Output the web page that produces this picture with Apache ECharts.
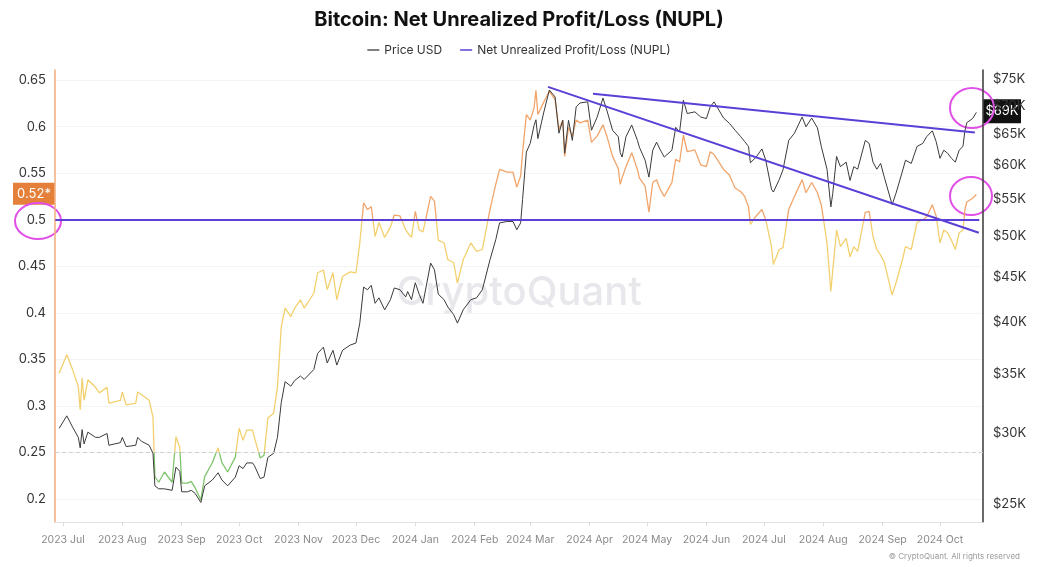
<!DOCTYPE html>
<html>
<head>
<meta charset="utf-8">
<title>Bitcoin: Net Unrealized Profit/Loss (NUPL)</title>
<script src="https://cdn.jsdelivr.net/npm/echarts@6/dist/echarts.min.js"></script>
<style>
    html, body { margin: 0; padding: 0; background: #fff; }
    #main { width: 1038px; height: 567px; }
</style>
</head>
<body>
<div id="main"></div>
<script>
const FONT = 'Inter, "Noto Sans", sans-serif';

// ------------------ data ------------------
const dates = [
    '2023-06-29', '2023-07-03', '2023-07-06', '2023-07-09', '2023-07-10', '2023-07-11', '2023-07-12', '2023-07-14',
    '2023-07-18', '2023-07-20', '2023-07-24', '2023-07-25', '2023-07-31', '2023-08-01', '2023-08-03', '2023-08-08',
    '2023-08-09', '2023-08-11', '2023-08-15', '2023-08-17', '2023-08-18', '2023-08-20', '2023-08-23', '2023-08-27',
    '2023-08-29', '2023-08-31', '2023-09-01', '2023-09-04', '2023-09-06', '2023-09-08', '2023-09-11', '2023-09-13',
    '2023-09-17', '2023-09-20', '2023-09-22', '2023-09-25', '2023-09-29', '2023-10-01', '2023-10-03', '2023-10-05',
    '2023-10-08', '2023-10-09', '2023-10-12', '2023-10-14', '2023-10-16', '2023-10-19', '2023-10-21', '2023-10-23',
    '2023-10-25', '2023-10-28', '2023-10-30', '2023-11-02', '2023-11-04', '2023-11-09', '2023-11-11', '2023-11-14',
    '2023-11-16', '2023-11-19', '2023-11-21', '2023-11-24', '2023-11-28', '2023-12-01', '2023-12-03', '2023-12-05',
    '2023-12-07', '2023-12-09', '2023-12-11', '2023-12-13', '2023-12-16', '2023-12-19', '2023-12-21', '2023-12-24',
    '2023-12-27', '2023-12-28', '2023-12-30', '2024-01-01', '2024-01-03', '2024-01-05', '2024-01-09', '2024-01-11',
    '2024-01-13', '2024-01-16', '2024-01-18', '2024-01-21', '2024-01-23', '2024-01-26', '2024-01-30', '2024-02-02',
    '2024-02-05', '2024-02-09', '2024-02-12', '2024-02-14', '2024-02-18', '2024-02-21', '2024-02-23', '2024-02-25',
    '2024-02-26', '2024-02-28', '2024-03-01', '2024-03-03', '2024-03-04', '2024-03-05', '2024-03-08', '2024-03-11',
    '2024-03-14', '2024-03-16', '2024-03-18', '2024-03-19', '2024-03-21', '2024-03-23', '2024-03-25', '2024-03-27',
    '2024-03-31', '2024-04-02', '2024-04-05', '2024-04-08', '2024-04-10', '2024-04-13', '2024-04-16', '2024-04-17',
    '2024-04-18', '2024-04-20', '2024-04-23', '2024-04-26', '2024-04-27', '2024-04-30', '2024-05-02', '2024-05-04',
    '2024-05-06', '2024-05-08', '2024-05-10', '2024-05-14', '2024-05-16', '2024-05-18', '2024-05-20', '2024-05-22',
    '2024-05-26', '2024-05-29', '2024-06-01', '2024-06-03', '2024-06-05', '2024-06-10', '2024-06-13', '2024-06-16',
    '2024-06-19', '2024-06-21', '2024-06-23', '2024-06-24', '2024-06-27', '2024-06-30', '2024-07-02', '2024-07-05',
    '2024-07-06', '2024-07-09', '2024-07-11', '2024-07-14', '2024-07-17', '2024-07-21', '2024-07-23', '2024-07-26',
    '2024-07-29', '2024-07-31', '2024-08-03', '2024-08-05', '2024-08-06', '2024-08-08', '2024-08-10', '2024-08-13',
    '2024-08-15', '2024-08-17', '2024-08-19', '2024-08-23', '2024-08-25', '2024-08-27', '2024-08-29', '2024-08-31',
    '2024-09-02', '2024-09-06', '2024-09-08', '2024-09-11', '2024-09-13', '2024-09-16', '2024-09-19', '2024-09-22',
    '2024-09-24', '2024-09-27', '2024-09-29', '2024-10-01', '2024-10-03', '2024-10-05', '2024-10-07', '2024-10-09',
    '2024-10-11', '2024-10-13', '2024-10-14', '2024-10-15', '2024-10-18', '2024-10-20'
];

const priceUsd = [
    30400, 31400, 30500, 29700, 28900, 30300, 29200, 30100,
    29700, 29700, 30000, 29100, 29300, 29700, 29000, 29100,
    29700, 29400, 29100, 28500, 26200, 26000, 26000, 25900,
    27500, 27200, 25800, 25800, 25900, 25700, 25100, 26200,
    26600, 27100, 26600, 26200, 26800, 27600, 27400, 27800,
    27800, 27600, 26700, 26800, 28200, 28500, 29700, 32500,
    34300, 33900, 34400, 34800, 34500, 35400, 36900, 37500,
    36000, 37200, 35800, 37200, 37700, 37900, 39900, 43800,
    43500, 44000, 42000, 42600, 41300, 42400, 43700, 43500,
    42700, 43300, 42400, 44300, 43000, 42000, 46600, 45800,
    43000, 42400, 41600, 40800, 39900, 41300, 42400, 42600,
    43500, 47000, 49500, 51700, 51900, 51900, 50800, 51700,
    54900, 62100, 63500, 66500, 67500, 64300, 68700, 72900,
    71600, 65200, 67400, 61900, 67400, 64000, 69800, 70500,
    70700, 65700, 68000, 71400, 69200, 65700, 64600, 62000,
    61300, 64600, 66600, 64000, 62900, 60800, 58200, 62400,
    63700, 62400, 61300, 62400, 66200, 65400, 71000, 68600,
    68900, 68000, 67700, 69800, 70700, 67800, 66900, 65700,
    64600, 63800, 63000, 60400, 61300, 62600, 60800, 56400,
    56000, 57800, 59300, 64000, 65200, 68000, 66300, 67800,
    66100, 63000, 59400, 53900, 55800, 61400, 59800, 60500,
    57700, 59800, 59400, 64000, 63500, 60500, 59400, 60300,
    58100, 54200, 55800, 58700, 60800, 60300, 63000, 63500,
    64600, 65600, 63800, 61100, 62400, 61900, 61100, 60500,
    62400, 63000, 65600, 67000, 67700, 68800
];

const nupl = [
    0.335, 0.355, 0.339, 0.321, 0.296, 0.330, 0.306, 0.328,
    0.320, 0.314, 0.320, 0.303, 0.306, 0.315, 0.301, 0.303,
    0.315, 0.312, 0.306, 0.288, 0.224, 0.218, 0.229, 0.218,
    0.267, 0.255, 0.217, 0.217, 0.219, 0.212, 0.199, 0.224,
    0.239, 0.255, 0.239, 0.229, 0.245, 0.276, 0.263, 0.274,
    0.274, 0.266, 0.244, 0.247, 0.287, 0.292, 0.320, 0.385,
    0.405, 0.396, 0.405, 0.414, 0.405, 0.421, 0.443, 0.446,
    0.425, 0.443, 0.414, 0.439, 0.444, 0.443, 0.475, 0.518,
    0.511, 0.514, 0.482, 0.497, 0.481, 0.492, 0.505, 0.504,
    0.489, 0.486, 0.481, 0.509, 0.489, 0.487, 0.525, 0.520,
    0.478, 0.475, 0.457, 0.454, 0.432, 0.457, 0.475, 0.466,
    0.468, 0.511, 0.538, 0.554, 0.551, 0.551, 0.535, 0.547,
    0.572, 0.613, 0.607, 0.620, 0.639, 0.613, 0.626, 0.638,
    0.629, 0.597, 0.607, 0.568, 0.599, 0.590, 0.607, 0.604,
    0.607, 0.583, 0.590, 0.602, 0.590, 0.568, 0.555, 0.538,
    0.545, 0.557, 0.572, 0.554, 0.545, 0.536, 0.508, 0.540,
    0.543, 0.532, 0.525, 0.540, 0.565, 0.562, 0.591, 0.573,
    0.575, 0.559, 0.557, 0.573, 0.570, 0.554, 0.548, 0.534,
    0.530, 0.525, 0.514, 0.495, 0.504, 0.511, 0.500, 0.471,
    0.452, 0.468, 0.470, 0.511, 0.525, 0.543, 0.529, 0.540,
    0.529, 0.516, 0.475, 0.423, 0.446, 0.489, 0.471, 0.480,
    0.460, 0.471, 0.466, 0.508, 0.509, 0.482, 0.468, 0.462,
    0.454, 0.419, 0.432, 0.454, 0.471, 0.468, 0.497, 0.500,
    0.503, 0.516, 0.504, 0.475, 0.489, 0.486, 0.478, 0.468,
    0.486, 0.489, 0.511, 0.519, 0.523, 0.527
];

const MONTHS = ['Jan', 'Feb', 'Mar', 'Apr', 'May', 'Jun', 'Jul', 'Aug', 'Sep', 'Oct', 'Nov', 'Dec'];
const nuplTicks = [0.2, 0.25, 0.3, 0.35, 0.4, 0.45, 0.5, 0.55, 0.6, 0.65];
const priceTicks = [25000, 30000, 35000, 40000, 45000, 50000, 55000, 60000, 65000, 70000, 75000];

// last values shown in the axis tags
const lastNupl = 0.528;
const lastPrice = 69000;

// hand drawn trend lines (date, price) and the 0.5 level
const trendA = [['2024-03-10 07:00', 73500], ['2024-10-21 07:00', 50400]];
const trendB = [['2024-04-02 19:00', 72200], ['2024-10-19 05:00', 65300]];
const levelLine = [['2023-06-27', 0.5], ['2024-10-21 12:00', 0.5]];

const GREEN = '#7fc36c';
const YELLOW = '#f3d06e';
const ORANGE = '#f1a56b';
const PURPLE = '#5b3fd6';
const MAGENTA = '#e04fe6';

const toTime = d => echarts.number.parseDate(d).getTime();
const DAY = 24 * 3600 * 1000;

let chart = echarts.init(document.getElementById('main'));

let option = {
    animation: false,
    textStyle: {fontFamily: FONT},
    title: {
        text: 'Bitcoin: Net Unrealized Profit/Loss (NUPL)',
        left: 'center',
        top: 5,
        textStyle: {fontSize: 20, fontWeight: 'bold', color: '#111', fontFamily: FONT}
    },
    legend: {
        top: 39,
        left: 'center',
        icon: 'rect',
        itemWidth: 12,
        itemHeight: 1.5,
        itemGap: 18,
        textStyle: {fontSize: 12, color: '#333', fontFamily: FONT},
        data: ['Price USD', 'Net Unrealized Profit/Loss (NUPL)']
    },
    grid: {left: 55, right: 55, top: 70, bottom: 45},
    xAxis: {
        type: 'time',
        min: toTime('2023-06-26 20:00'),
        max: toTime('2024-10-23 11:00'),
        minInterval: 28 * DAY,
        maxInterval: 31 * DAY,
        axisLine: {show: true, lineStyle: {color: '#e3e3e3'}},
        axisTick: {show: true, length: 4, lineStyle: {color: '#dcdcdc'}},
        axisLabel: {
            color: '#8a8a8a', fontSize: 10.5, margin: 12, fontFamily: FONT,
            hideOverlap: false,
            formatter: function (v) {
                let d = new Date(v);
                return d.getFullYear() + ' ' + MONTHS[d.getMonth()];
            }
        },
        splitLine: {show: false}
    },
    yAxis: [
        {
            type: 'value',
            position: 'left',
            min: 0.1753,
            max: 0.6608,
            axisLine: {show: true, lineStyle: {color: '#f4b183', width: 1.6}},
            axisTick: {show: false, customValues: nuplTicks},
            axisLabel: {
                color: '#333', fontSize: 13, margin: 9, fontFamily: FONT,
                customValues: nuplTicks,
                formatter: v => String(+v.toFixed(2))
            },
            splitLine: {show: true, lineStyle: {color: '#f4f4f4'}}
        },
        {
            type: 'log',
            position: 'right',
            min: 23863,
            max: 76770,
            axisLine: {show: true, lineStyle: {color: '#444', width: 1.6}},
            axisTick: {show: false, customValues: priceTicks},
            axisLabel: {
                color: '#333', fontSize: 13, margin: 10, fontFamily: FONT,
                customValues: priceTicks,
                formatter: v => '$' + Math.round(v / 1000) + 'K'
            },
            splitLine: {show: false}
        }
    ],
    visualMap: {
        show: false,
        type: 'piecewise',
        seriesIndex: 1,
        dimension: 1,
        pieces: [
            {lt: 0.25, color: GREEN},
            {gte: 0.25, lt: 0.5, color: YELLOW},
            {gte: 0.5, color: ORANGE}
        ]
    },
    series: [
        {
            name: 'Price USD',
            type: 'line',
            yAxisIndex: 1,
            color: '#555',
            showSymbol: false,
            z: 3,
            lineStyle: {color: '#3a3a3a', width: 1},
            data: dates.map((d, i) => [d, priceUsd[i]]),
            markLine: {
                silent: true,
                symbol: 'none',
                label: {show: false},
                lineStyle: {color: PURPLE, width: 2, type: 'solid'},
                data: [
                    [{coord: trendA[0]}, {coord: trendA[1]}],
                    [{coord: trendB[0]}, {coord: trendB[1]}]
                ]
            }
        },
        {
            name: 'Net Unrealized Profit/Loss (NUPL)',
            type: 'line',
            yAxisIndex: 0,
            color: PURPLE,
            showSymbol: false,
            z: 2,
            lineStyle: {width: 1.3},
            data: dates.map((d, i) => [d, nupl[i]]),
            markLine: {
                silent: true,
                symbol: 'none',
                label: {show: false},
                data: [
                    {yAxis: 0.25, lineStyle: {color: '#cfcfcf', width: 1, type: [4, 3]}},
                    [{coord: levelLine[0], lineStyle: {color: PURPLE, width: 2, type: 'solid'}}, {coord: levelLine[1]}]
                ]
            }
        }
    ]
};

chart.setOption(option);

// axis tags and drawn annotations
let yN = chart.convertToPixel({yAxisIndex: 0}, lastNupl);
let yP = chart.convertToPixel({yAxisIndex: 1}, lastPrice);

chart.setOption({
    graphic: [
        {
            type: 'text', left: 'center', top: 273, z: 0, silent: true,
            style: {text: 'CryptoQuant', fontSize: 40, fontWeight: 500, fill: '#e8e8ec', fontFamily: FONT}
        },
        {
            type: 'text', right: 18, top: 553, silent: true,
            style: {text: '© CryptoQuant. All rights reserved', fontSize: 8, fill: '#9a9a9a', fontFamily: FONT}
        },
        {
            type: 'group', silent: true, z: 50,
            children: [
                {type: 'rect', shape: {x: 13, y: yN - 11, width: 42, height: 22}, style: {fill: '#e5803a'}},
                {
                    type: 'text', x: 34, y: yN,
                    style: {text: '0.52*', fontSize: 13, fill: '#fff', align: 'center', verticalAlign: 'middle', fontFamily: FONT}
                },
                {type: 'rect', shape: {x: 983, y: yP - 12, width: 38, height: 24}, style: {fill: '#111'}},
                {
                    type: 'text', x: 1002, y: yP,
                    style: {text: '$69K', fontSize: 13, fill: '#fff', align: 'center', verticalAlign: 'middle', fontFamily: FONT}
                }
            ]
        },
        {
            type: 'group', silent: true, z: 60,
            children: [
                {type: 'ellipse', shape: {cx: 38, cy: 221, rx: 23, ry: 18}, style: {fill: 'none', stroke: MAGENTA, lineWidth: 2}},
                {type: 'ellipse', shape: {cx: 972, cy: 108, rx: 22, ry: 20}, style: {fill: 'none', stroke: MAGENTA, lineWidth: 2}},
                {type: 'ellipse', shape: {cx: 971, cy: 196, rx: 21, ry: 19}, style: {fill: 'none', stroke: MAGENTA, lineWidth: 2}}
            ]
        }
    ]
});
</script>
</body>
</html>
